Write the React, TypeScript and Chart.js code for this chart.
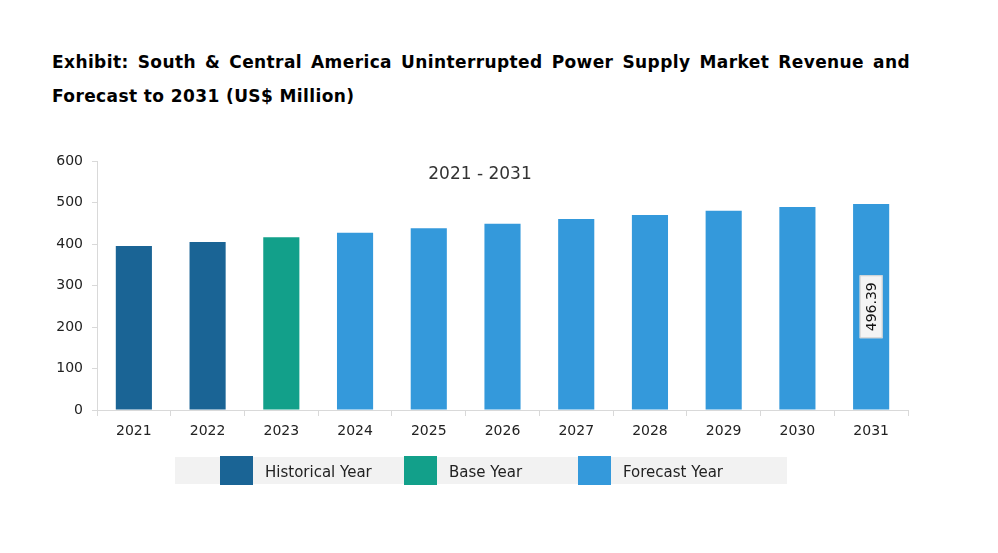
import React, { useEffect, useRef } from "react";
import { Chart, registerables } from "chart.js";

Chart.register(...registerables);

const categories = ["2021", "2022", "2023", "2024", "2025", "2026", "2027", "2028", "2029", "2030", "2031"];
const revenue = [395, 405, 416, 427, 438, 449, 460, 470, 480, 489, 496.39];
const periodType = ["Historical Year", "Historical Year", "Base Year", "Forecast Year", "Forecast Year", "Forecast Year", "Forecast Year", "Forecast Year", "Forecast Year", "Forecast Year", "Forecast Year"];
const legendLabels = ["Historical Year", "Base Year", "Forecast Year"];
const legendColors = ["#1A6495", "#12A08A", "#3499DB"];
const labelledIndex = 10;
const rangeText = "2021 - 2031";
const titleText = "Exhibit: South & Central America Uninterrupted Power Supply Market Revenue and Forecast to 2031 (US$ Million)";

const FONT = "'DejaVu Sans', Verdana, sans-serif";

const overlayPlugin = {
  id: "overlay",
  afterDatasetsDraw(chart: any) {
    const ctx = chart.ctx;
    ctx.save();
    ctx.font = `17px ${FONT}`;
    ctx.fillStyle = "#333333";
    ctx.textAlign = "center";
    ctx.textBaseline = "middle";
    ctx.fillText(rangeText, 480, 175);
    const meta = chart.getDatasetMeta(0);
    const bar = meta.data[labelledIndex];
    if (bar) {
      const x = bar.x;
      const y = (bar.y + bar.base) / 2;
      const txt = revenue[labelledIndex].toFixed(2);
      ctx.translate(x, y);
      ctx.rotate(-Math.PI / 2);
      ctx.font = `14px ${FONT}`;
      const w = ctx.measureText(txt).width + 14;
      const h = 23;
      ctx.fillStyle = "#f4f4f4";
      ctx.fillRect(-w / 2, -h / 2, w, h);
      ctx.strokeStyle = "#d0d0d0";
      ctx.lineWidth = 1;
      ctx.strokeRect(-w / 2 + 0.5, -h / 2 + 0.5, w - 1, h - 1);
      ctx.fillStyle = "#111111";
      ctx.textAlign = "center";
      ctx.textBaseline = "middle";
      ctx.fillText(txt, 0, 1);
    }
    ctx.restore();
  },
};

export default function App() {
  const ref = useRef<HTMLCanvasElement | null>(null);

  useEffect(() => {
    document.body.style.margin = "0";
    const colors = periodType.map((p) => legendColors[legendLabels.indexOf(p)]);
    const chart = new Chart(ref.current as HTMLCanvasElement, {
      type: "bar",
      data: {
        labels: categories,
        datasets: [
          {
            data: revenue,
            backgroundColor: colors,
            borderWidth: 0,
            barPercentage: 0.49,
            categoryPercentage: 1,
          },
        ],
      },
      options: {
        animation: false,
        responsive: false,
        maintainAspectRatio: false,
        layout: { padding: { left: 0, top: 161, right: 90, bottom: 103 } },
        plugins: { legend: { display: false }, tooltip: { enabled: false }, title: { display: false } },
        scales: {
          x: {
            afterFit: (s: any) => { s.height = 40; },
            grid: { display: true, drawOnChartArea: false, offset: true, tickLength: 6, color: "#d9d9d9" },
            border: { color: "#d9d9d9" },
            ticks: { color: "#222222", font: { family: FONT, size: 14 }, padding: 7 },
          },
          y: {
            min: 0,
            max: 600,
            afterFit: (s: any) => { s.width = 97; },
            grid: { display: true, drawOnChartArea: false, tickLength: 5, color: "#d9d9d9" },
            border: { color: "#d9d9d9" },
            ticks: { stepSize: 100, color: "#222222", font: { family: FONT, size: 14 }, padding: 9 },
          },
        },
      },
      plugins: [overlayPlugin],
    });
    return () => chart.destroy();
  }, []);

  return (
    <div style={{ position: "relative", width: 998, height: 553, background: "#fff", overflow: "hidden" }}>
      <div
        style={{
          position: "absolute",
          left: 52,
          top: 45,
          width: 858,
          fontFamily: FONT,
          fontWeight: "bold",
          fontSize: 17,
          letterSpacing: "0.4px",
          lineHeight: "34px",
          textAlign: "justify",
          color: "#000",
        }}
      >
        {titleText}
      </div>
      <canvas ref={ref} width={998} height={553} style={{ position: "absolute", left: 0, top: 0 }} />
      <div style={{ position: "absolute", left: 175, top: 457, width: 612, height: 27, background: "#f2f2f2" }} />
      {legendLabels.map((lab, i) => {
        const boxX = [220, 404, 578][i];
        return (
          <React.Fragment key={lab}>
            <div style={{ position: "absolute", left: boxX, top: 456, width: 33, height: 29, background: legendColors[i] }} />
            <div
              style={{
                position: "absolute",
                left: boxX + 45,
                top: 458,
                height: 29,
                lineHeight: "29px",
                fontFamily: FONT,
                fontSize: 15,
                color: "#222",
                whiteSpace: "nowrap",
              }}
            >
              {lab}
            </div>
          </React.Fragment>
        );
      })}
    </div>
  );
}
